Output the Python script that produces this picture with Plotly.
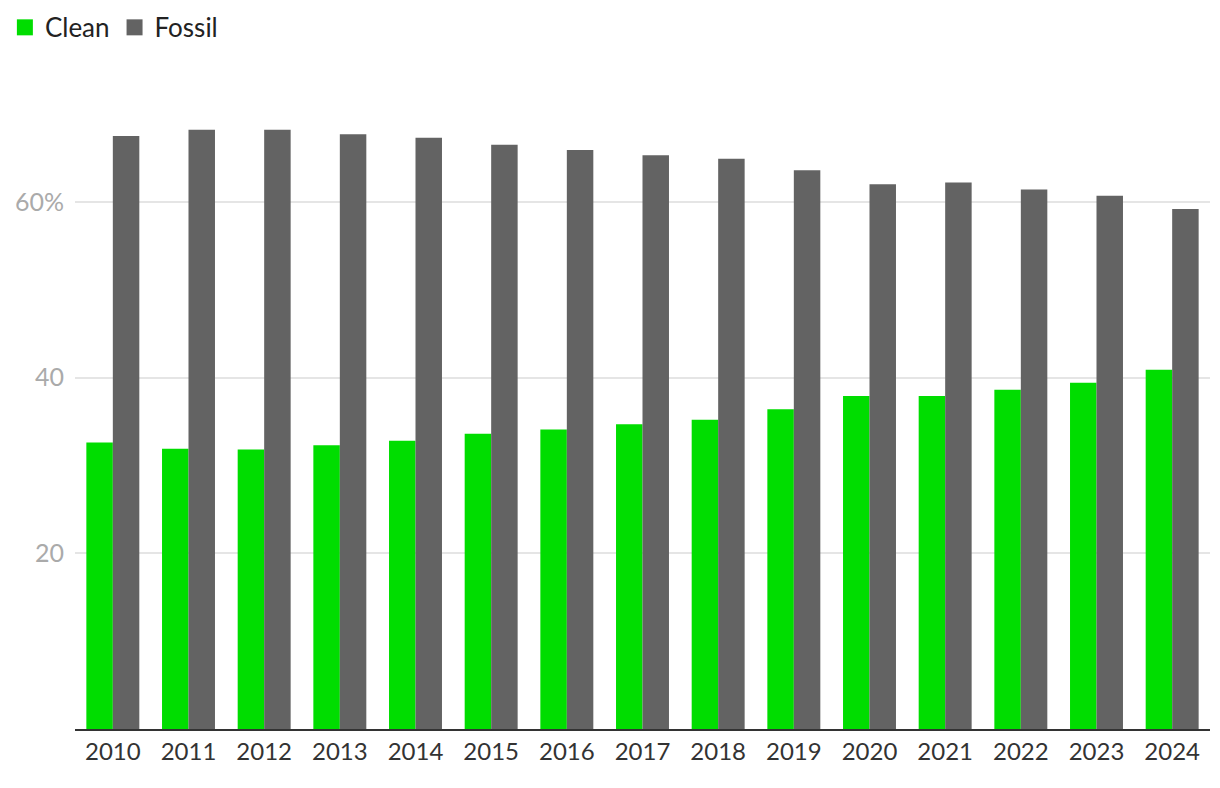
import plotly.graph_objects as go

years = [str(y) for y in range(2010, 2025)]
clean = [32.6, 31.9, 31.8, 32.3, 32.8, 33.6, 34.1, 34.7, 35.2, 36.4, 37.9, 37.9, 38.6, 39.4, 40.9]
fossil = [67.5, 68.2, 68.2, 67.7, 67.3, 66.5, 65.9, 65.3, 64.9, 63.6, 62.0, 62.2, 61.4, 60.7, 59.2]
y_tickvals = [20, 40, 60]
y_ticktext = ["20", "40", "60%"]

GREEN = "#00DD00"
GRAY = "#636363"
FONT = "Lato"

fig = go.Figure()
fig.add_trace(go.Bar(x=years, y=clean, name="Clean", marker=dict(color=GREEN, line=dict(width=0)), showlegend=False))
fig.add_trace(go.Bar(x=years, y=fossil, name="Fossil", marker=dict(color=GRAY, line=dict(width=0)), showlegend=False))
# legend entries
fig.add_trace(go.Scatter(x=[None], y=[None], mode="markers", name="Clean",
                         marker=dict(symbol="square", size=16, color=GREEN, line=dict(width=0))))
fig.add_trace(go.Scatter(x=[None], y=[None], mode="markers", name="Fossil",
                         marker=dict(symbol="square", size=16, color=GRAY, line=dict(width=0))))

fig.update_layout(
    width=1220, height=788,
    margin=dict(l=75, r=10, t=114, b=59, autoexpand=False),
    plot_bgcolor="white", paper_bgcolor="white",
    barmode="group", bargap=0.3, bargroupgap=0,
    font=dict(family=FONT, color="#333333"),
    legend=dict(orientation="h", xref="container", yref="container", x=0.004, y=0.995,
                xanchor="left", yanchor="top", font=dict(size=26, color="#222222"),
                itemsizing="trace", traceorder="normal", itemclick=False),
    showlegend=True,
)
fig.update_xaxes(type="category", showgrid=False, showline=True, linecolor="#333333", linewidth=2,
                 ticks="", tickfont=dict(size=24, color="#333333"), automargin=False)
fig.update_yaxes(range=[0, 70], tickvals=y_tickvals, ticktext=y_ticktext, showgrid=True,
                 gridcolor="#e5e5e5", gridwidth=2, zeroline=False, showline=False,
                 tickfont=dict(size=25, color="#aaaaaa"), ticklabelstandoff=10, automargin=False)

fig.write_html("out.html", config={"displayModeBar": False},
               post_script="document.body.style.margin='0px';")
